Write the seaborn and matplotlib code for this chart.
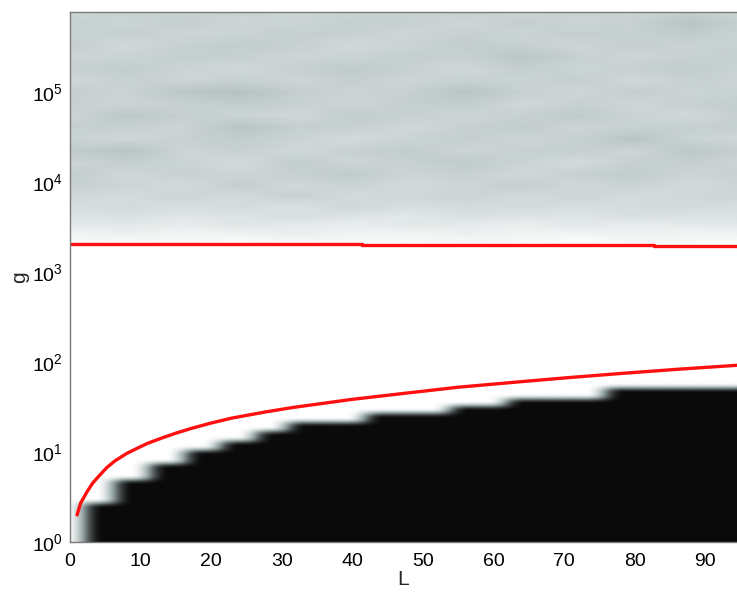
import numpy as np
import matplotlib
matplotlib.use("Agg")
import matplotlib.pyplot as plt
from matplotlib.colors import LinearSegmentedColormap
from matplotlib.ticker import LogLocator, LogFormatterMathtext, FixedLocator, NullLocator
import pandas as pd
import seaborn as sns

# ---------------- data ----------------
# red curve (lower bound)
L_curve = [1.0, 1.5, 2.4, 3.2, 4.0, 5.2, 6.4, 8.0, 9.2, 11.0, 13.0, 15.0, 17.2,
           20.0, 22.9, 27.6, 31.5, 40.0, 47.5, 55.0, 63.7, 71.0, 78.3, 86.0, 94.5]
g_curve = [2.0, 2.7, 3.6, 4.5, 5.3, 6.7, 8.0, 9.6, 10.7, 12.5, 14.3, 16.2, 18.3,
           21.0, 23.8, 27.8, 31.2, 38.5, 45.0, 52.5, 60.3, 67.5, 74.9, 83.0, 92.0]

# red near-horizontal line (upper bound), piecewise constant
L_upper = [0.0, 20.5, 20.5, 41.4, 41.4, 62.2, 62.2, 82.7, 82.7, 95.0]
g_upper = [2060, 2060, 2035, 2035, 2010, 2010, 1985, 1985, 1960, 1960]

# top edge (log10 g) of the black region: starts of L blocks and levels
black_L_start = [2.2, 6.5, 11.5, 16.5, 21.5, 26.5, 31.0, 42.0, 54.0, 62.0, 76.0]
black_log_top = [0.44, 0.70, 0.88, 1.03, 1.13, 1.24, 1.34, 1.44, 1.52, 1.60, 1.72]

# grey noisy region above the upper line (values on colour scale 0..1)
noise_L = [0, 8, 16, 24, 32, 40, 48, 56, 64, 72, 80, 88, 96]
noise_logg = [3.32, 3.42, 3.52, 3.62, 3.72, 3.84, 3.96, 4.09, 4.22, 4.35, 4.48,
              4.61, 4.74, 4.87, 5.00, 5.13, 5.26, 5.39, 5.52, 5.65, 5.78, 5.90]
noise_val = [
    [0.98, 0.98, 0.97, 0.99, 0.97, 0.98, 0.98, 0.97, 0.98, 0.99, 0.97, 0.98, 0.98],
    [0.95, 0.94, 0.96, 0.95, 0.93, 0.95, 0.96, 0.94, 0.95, 0.96, 0.94, 0.95, 0.95],
    [0.91, 0.90, 0.92, 0.89, 0.91, 0.92, 0.90, 0.91, 0.93, 0.90, 0.92, 0.91, 0.90],
    [0.88, 0.87, 0.89, 0.88, 0.86, 0.88, 0.90, 0.87, 0.88, 0.89, 0.86, 0.88, 0.87],
    [0.86, 0.84, 0.86, 0.85, 0.87, 0.83, 0.86, 0.85, 0.84, 0.86, 0.85, 0.84, 0.86],
    [0.83, 0.85, 0.82, 0.84, 0.80, 0.84, 0.83, 0.81, 0.84, 0.82, 0.85, 0.83, 0.82],
    [0.80, 0.82, 0.84, 0.79, 0.83, 0.81, 0.84, 0.82, 0.79, 0.83, 0.81, 0.84, 0.81],
    [0.78, 0.83, 0.80, 0.82, 0.80, 0.77, 0.82, 0.80, 0.83, 0.80, 0.78, 0.82, 0.80],
    [0.82, 0.79, 0.81, 0.84, 0.78, 0.82, 0.80, 0.77, 0.81, 0.84, 0.80, 0.79, 0.82],
    [0.77, 0.74, 0.82, 0.80, 0.83, 0.80, 0.78, 0.82, 0.80, 0.79, 0.82, 0.76, 0.80],
    [0.81, 0.83, 0.80, 0.78, 0.81, 0.84, 0.81, 0.79, 0.82, 0.80, 0.74, 0.81, 0.83],
    [0.79, 0.80, 0.82, 0.74, 0.79, 0.80, 0.83, 0.80, 0.78, 0.82, 0.80, 0.79, 0.80],
    [0.82, 0.76, 0.79, 0.81, 0.83, 0.78, 0.80, 0.82, 0.80, 0.77, 0.81, 0.83, 0.79],
    [0.80, 0.82, 0.80, 0.78, 0.80, 0.82, 0.79, 0.78, 0.83, 0.80, 0.82, 0.80, 0.78],
    [0.79, 0.81, 0.75, 0.73, 0.79, 0.81, 0.80, 0.74, 0.80, 0.82, 0.79, 0.81, 0.80],
    [0.83, 0.80, 0.82, 0.80, 0.82, 0.79, 0.82, 0.80, 0.81, 0.79, 0.83, 0.80, 0.82],
    [0.80, 0.78, 0.81, 0.83, 0.80, 0.77, 0.80, 0.83, 0.79, 0.81, 0.80, 0.78, 0.81],
    [0.82, 0.81, 0.79, 0.80, 0.82, 0.81, 0.79, 0.80, 0.75, 0.80, 0.82, 0.80, 0.79],
    [0.79, 0.83, 0.80, 0.78, 0.80, 0.83, 0.81, 0.78, 0.80, 0.82, 0.79, 0.81, 0.80],
    [0.81, 0.79, 0.82, 0.81, 0.79, 0.80, 0.82, 0.80, 0.81, 0.79, 0.80, 0.77, 0.81],
    [0.80, 0.81, 0.79, 0.82, 0.81, 0.79, 0.80, 0.82, 0.79, 0.81, 0.80, 0.74, 0.80],
    [0.82, 0.80, 0.81, 0.80, 0.82, 0.81, 0.80, 0.79, 0.82, 0.80, 0.81, 0.80, 0.82],
]

x_ticks = [0, 10, 20, 30, 40, 50, 60, 70, 80, 90]
x_label = "L"
y_label = "g"

# ---------------- figure ----------------
sns.set_style("white")
plt.rcParams["font.family"] = ["Liberation Sans", "DejaVu Sans"]
plt.rcParams["mathtext.fontset"] = "custom"
plt.rcParams["mathtext.rm"] = "Liberation Sans"
plt.rcParams["mathtext.it"] = "Liberation Sans:italic"

fig = plt.figure(figsize=(7.37, 5.93), dpi=100)
ax = fig.add_axes([70 / 737, 51 / 593, 667 / 737, 530 / 593])
ax.set_yscale("log")

cmap = LinearSegmentedColormap.from_list(
    "bw", [(0.0, "#0a0a0a"), (0.6, "#98a6a6"), (0.72, "#b2bfbf"),
           (0.8, "#c8d1d1"), (0.88, "#dde3e3"), (1.0, "#ffffff")])

# lower part: black region below a staircase, white above (soft edges)
dL, dlg = 0.25, 0.01
grid_L = np.arange(-3.0, 98.0, dL)
grid_logg = np.arange(-0.2, 3.40, dlg)
idx = np.searchsorted(black_L_start, grid_L, side="right") - 1
top = np.where(idx >= 0, np.array(black_log_top)[np.clip(idx, 0, None)], -1.0)
Z = np.where(grid_logg[:, None] <= top[None, :], 0.0, 1.0)


def box_blur(a, n, axis):
    pad = [(0, 0), (0, 0)]
    pad[axis] = (n, n)
    ap = np.pad(a, pad, mode="edge")
    k = np.ones(2 * n + 1) / (2 * n + 1)
    return np.apply_along_axis(lambda v: np.convolve(v, k, mode="valid"), axis, ap)


Z = box_blur(Z, 5, axis=1)
Z = box_blur(Z, 5, axis=1)   # ~2.5 L horizontally
Z = box_blur(Z, 3, axis=0)
Z = box_blur(Z, 2, axis=0)   # ~0.06 decade vertically
GX, GY = np.meshgrid(grid_L, 10 ** grid_logg)
ax.pcolormesh(GX, GY, Z, cmap=cmap, vmin=0, vmax=1, shading="gouraud", rasterized=True)

# upper grey noisy region
NX, NY = np.meshgrid(noise_L, 10 ** np.array(noise_logg))
ax.pcolormesh(NX, NY, np.array(noise_val), cmap=cmap, vmin=0, vmax=1,
              shading="gouraud", rasterized=True)

# red lines
df_up = pd.DataFrame({"L": L_upper, "g": g_upper})
df_lo = pd.DataFrame({"L": L_curve, "g": g_curve})
sns.lineplot(data=df_up, x="L", y="g", ax=ax, color="#ff1010", lw=2.4,
             sort=False, estimator=None)
sns.lineplot(data=df_lo, x="L", y="g", ax=ax, color="#ff1010", lw=2.4,
             sort=False, estimator=None)

ax.set_xlim(0, 94.5)
ax.set_ylim(1, 10 ** 5.89)
ax.xaxis.set_major_locator(FixedLocator(x_ticks))
ax.yaxis.set_major_locator(LogLocator(base=10, numticks=10))
ax.yaxis.set_major_formatter(LogFormatterMathtext())
ax.yaxis.set_minor_locator(NullLocator())
ax.tick_params(axis="both", length=0, labelsize=14, colors="black")
ax.tick_params(axis="x", pad=8)
ax.tick_params(axis="y", pad=5)

for s in ["left", "bottom", "top"]:
    ax.spines[s].set_color("#7a7a7a")
    ax.spines[s].set_linewidth(1.0)
ax.spines["right"].set_visible(False)

ax.set_xlabel(x_label, fontsize=15, labelpad=0)
ax.set_ylabel(y_label, fontsize=15, labelpad=2)

fig.savefig("out.png", dpi=100)
